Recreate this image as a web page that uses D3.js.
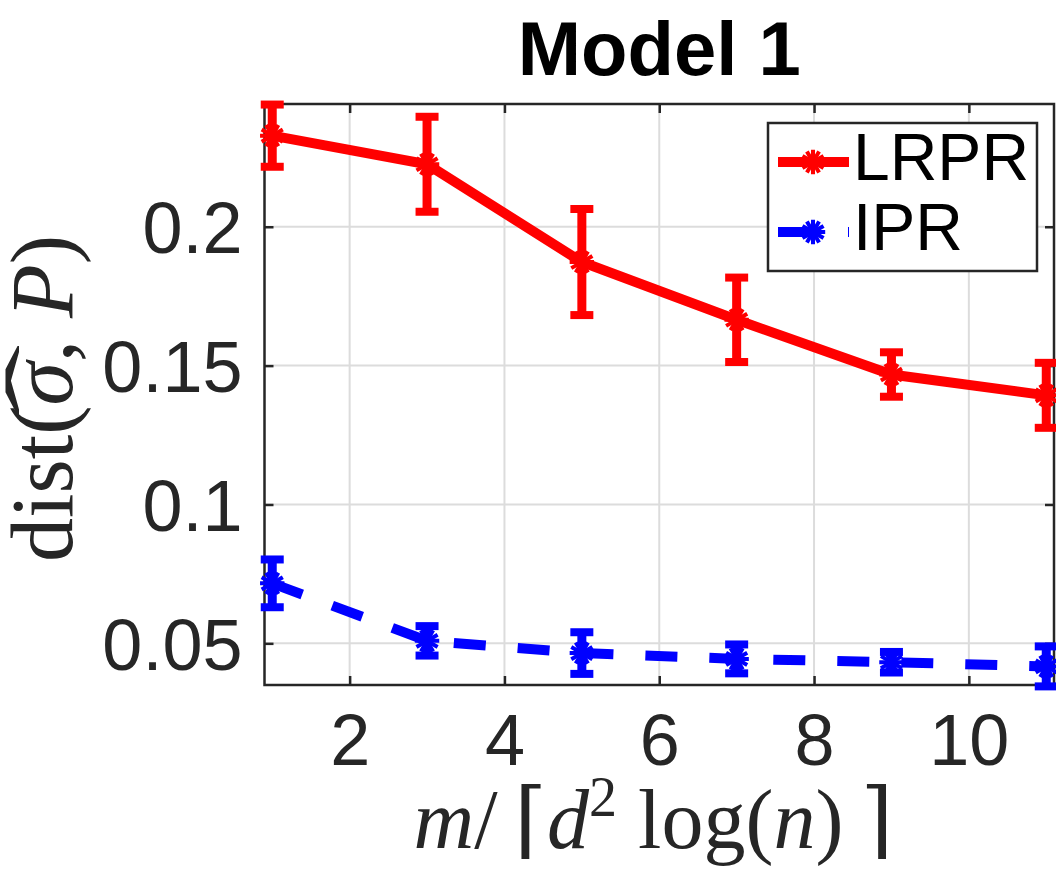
<!DOCTYPE html>
<html>
<head>
<meta charset="utf-8">
<script src="https://cdn.jsdelivr.net/npm/d3@7"></script>
<style>
  body { margin: 0; background: #fff; }
  svg { display: block; }
</style>
</head>
<body>
<div id="chart"></div>
<script>
// data
var xValues = [1, 3, 5, 7, 9, 11];
var lrprMean = [0.2328, 0.2225, 0.1873, 0.1665, 0.1468, 0.1393];
var lrprErr = [0.0112, 0.0171, 0.0191, 0.0152, 0.0080, 0.0117];
var iprMean = [0.0716, 0.0509, 0.0465, 0.0444, 0.0432, 0.0417];
var iprErr = [0.0086, 0.0053, 0.0075, 0.0052, 0.0037, 0.0072];
var xTicks = [2, 4, 6, 8, 10];
var yTicks = [0.05, 0.1, 0.15, 0.2];
var legendNames = ["LRPR", "IPR"];

var width = 1056, height = 876,
    margin = { top: 104, right: 2, bottom: 191, left: 264.5 },
    plotW = width - margin.left - margin.right,
    plotH = height - margin.top - margin.bottom,
    axisColor = "#262626";

var series = [
  { name: legendNames[0], mean: lrprMean, err: lrprErr, color: "#ff0000", dash: null },
  { name: legendNames[1], mean: iprMean, err: iprErr, color: "#0000ff", dash: "32,32" }
];

var x = d3.scaleLinear().domain([0.9, 11.1]).range([0, plotW]);
var y = d3.scaleLinear().domain([0.035, 0.2442]).range([plotH, 0]);

var svg = d3.select("#chart").append("svg")
    .attr("width", width)
    .attr("height", height);

var g = svg.append("g")
    .attr("transform", "translate(" + margin.left + "," + margin.top + ")");

// grid
g.append("g").selectAll("line").data(xTicks).enter().append("line")
    .attr("x1", function (d) { return x(d); })
    .attr("x2", function (d) { return x(d); })
    .attr("y1", 0).attr("y2", plotH)
    .attr("stroke", "#dcdcdc").attr("stroke-width", 2);
g.append("g").selectAll("line").data(yTicks).enter().append("line")
    .attr("y1", function (d) { return y(d); })
    .attr("y2", function (d) { return y(d); })
    .attr("x1", 0).attr("x2", plotW)
    .attr("stroke", "#dcdcdc").attr("stroke-width", 2);

// axes (ticks inside, box on all sides)
function styleAxis(sel) {
  sel.select(".domain").remove();
  sel.selectAll(".tick line").attr("stroke", axisColor).attr("stroke-width", 2.5);
  sel.selectAll("text").attr("fill", axisColor)
      .attr("font-family", "'Liberation Sans', Arial, Helvetica, sans-serif")
      .attr("font-size", "72px");
}
g.append("g")
    .attr("transform", "translate(0," + plotH + ")")
    .call(d3.axisBottom(x).tickValues(xTicks).tickSize(-9).tickPadding(80).tickFormat(d3.format("d")))
    .call(styleAxis)
    .selectAll("text").attr("dy", 0);
g.append("g")
    .call(d3.axisTop(x).tickValues(xTicks).tickSize(-9).tickFormat(""))
    .call(styleAxis);
g.append("g")
    .call(d3.axisLeft(y).tickValues(yTicks).tickSize(-9).tickPadding(22).tickFormat(function (d) { return String(d); }))
    .call(styleAxis)
    .selectAll("text").attr("dy", "0.36em");
g.append("g")
    .attr("transform", "translate(" + plotW + ",0)")
    .call(d3.axisRight(y).tickValues(yTicks).tickSize(-9).tickFormat(""))
    .call(styleAxis);
g.append("rect")
    .attr("width", plotW).attr("height", plotH)
    .attr("fill", "none").attr("stroke", axisColor).attr("stroke-width", 2.5);

// series
var line = d3.line()
    .x(function (d) { return x(d.x); })
    .y(function (d) { return y(d.m); });
var star = d3.symbol().type(d3.symbolAsterisk).size(420);
var capHalf = 11.5;

series.forEach(function (s) {
  var pts = xValues.map(function (v, i) { return { x: v, m: s.mean[i], e: s.err[i] }; });
  var sg = g.append("g");
  sg.append("path")
      .datum(pts)
      .attr("d", line)
      .attr("fill", "none")
      .attr("stroke", s.color)
      .attr("stroke-width", 10)
      .attr("stroke-dasharray", s.dash);
  var eb = sg.selectAll(".eb").data(pts).enter().append("g");
  eb.append("line")
      .attr("x1", function (d) { return x(d.x); })
      .attr("x2", function (d) { return x(d.x); })
      .attr("y1", function (d) { return y(d.m - d.e); })
      .attr("y2", function (d) { return y(d.m + d.e); })
      .attr("stroke", s.color).attr("stroke-width", 9);
  [-1, 1].forEach(function (sign) {
    eb.append("line")
        .attr("x1", function (d) { return x(d.x) - capHalf; })
        .attr("x2", function (d) { return x(d.x) + capHalf; })
        .attr("y1", function (d) { return y(d.m + sign * d.e); })
        .attr("y2", function (d) { return y(d.m + sign * d.e); })
        .attr("stroke", s.color).attr("stroke-width", 8);
  });
  [0, 30].forEach(function (rot) {
    eb.append("path")
        .attr("d", star)
        .attr("transform", function (d) { return "translate(" + x(d.x) + "," + y(d.m) + ") rotate(" + rot + ")"; })
        .attr("fill", "none")
        .attr("stroke", s.color)
        .attr("stroke-width", 4);
  });
});

// title
svg.append("text")
    .attr("x", margin.left + plotW / 2)
    .attr("y", 75)
    .attr("text-anchor", "middle")
    .attr("font-family", "'Liberation Sans', Arial, Helvetica, sans-serif")
    .attr("font-weight", "bold")
    .attr("font-size", "76px")
    .attr("fill", "#000")
    .text("Model 1");

// axis labels (LaTeX style)
var serif = "'Liberation Serif', 'DejaVu Serif', 'Times New Roman', serif";
var xl = svg.append("text")
    .attr("x", margin.left + plotW / 2 - 6)
    .attr("y", 848)
    .attr("text-anchor", "middle")
    .attr("font-family", serif)
    .attr("font-size", "84px")
    .attr("fill", axisColor);
xl.append("tspan").attr("font-style", "italic").text("m");
xl.append("tspan").text("/\u2009\u2308");
xl.append("tspan").attr("font-style", "italic").text("d");
xl.append("tspan").attr("font-size", "56px").attr("dy", "-32").text("2");
xl.append("tspan").attr("dy", "32").text(" log(");
xl.append("tspan").attr("font-style", "italic").text("n");
xl.append("tspan").text(")\u2009\u2309");

var yTransform = "translate(72," + (margin.top + plotH / 2 + 4) + ") rotate(-90)";
var yl = svg.append("text")
    .attr("transform", yTransform)
    .attr("text-anchor", "middle")
    .attr("font-family", serif)
    .attr("font-size", "88px")
    .attr("fill", axisColor);
yl.append("tspan").text("dist(");
yl.append("tspan").attr("font-style", "italic").text("\u03c3");
yl.append("tspan").text(", ");
yl.append("tspan").attr("font-style", "italic").text("P");
yl.append("tspan").text(")");
// wide hat over sigma, placed from the glyph's own extent
var sig = yl.node().getExtentOfChar(5);
svg.append("text")
    .attr("transform", yTransform + " translate(" + (sig.x + sig.width / 2 + 3) + ",-4) scale(2.5,1)")
    .attr("text-anchor", "middle")
    .attr("font-family", serif)
    .attr("font-size", "88px")
    .attr("fill", axisColor)
    .text("\u02c6");

// legend
var lg = svg.append("g").attr("transform", "translate(768,123)");
lg.append("rect")
    .attr("width", 269).attr("height", 148)
    .attr("fill", "#fff").attr("stroke", axisColor).attr("stroke-width", 2.5);
series.forEach(function (s, i) {
  var ly = 39 + i * 70;
  lg.append("line")
      .attr("x1", 10).attr("x2", 81)
      .attr("y1", ly).attr("y2", ly)
      .attr("stroke", s.color).attr("stroke-width", 10)
      .attr("stroke-dasharray", s.dash ? "34,36" : null);
  [0, 30].forEach(function (rot) {
    lg.append("path")
        .attr("d", star)
        .attr("transform", "translate(45," + ly + ") rotate(" + rot + ")")
        .attr("fill", "none").attr("stroke", s.color).attr("stroke-width", 4);
  });
  lg.append("text")
      .attr("x", 85).attr("y", ly + 18)
      .attr("font-family", "'Liberation Sans', Arial, Helvetica, sans-serif")
      .attr("font-size", "66px")
      .attr("fill", "#000")
      .text(s.name);
});
</script>
</body>
</html>
